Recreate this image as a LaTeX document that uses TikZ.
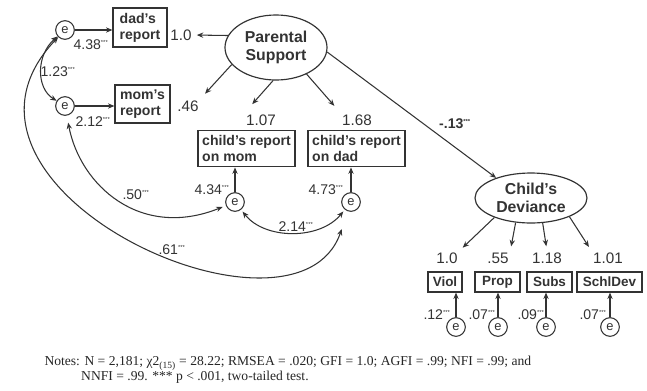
\documentclass[tikz,border=0pt]{standalone}
\usepackage{fontspec}
\setmainfont{Liberation Sans}
\newfontfamily\notesfont{Liberation Serif}
\usetikzlibrary{shapes.geometric, arrows.meta}
\newcommand{\stars}{\textsuperscript{\tiny ***}}

\begin{document}
\begin{tikzpicture}[x=0.03cm, y=-0.03cm, >={Stealth[length=5.5pt, width=4.5pt]}, line width=0.9pt, color=black!80,
  obs/.style={draw, line width=1pt, inner sep=2pt, align=left, font=\bfseries\fontsize{12}{13.6}\selectfont},
  small/.style={draw, line width=1pt, inner sep=1pt, minimum height=0.6cm, font=\bfseries\fontsize{11.5}{13}\selectfont},
  latent/.style={draw, ellipse, line width=1pt, inner sep=0pt, align=center, font=\bfseries\fontsize{13.5}{15.5}\selectfont},
  err/.style={draw, circle, line width=0.9pt, inner sep=0pt, minimum size=0.56cm, font=\fontsize{11}{11}\selectfont},
  coef/.style={inner sep=1pt, font=\fontsize{12}{12}\selectfont},
  load/.style={inner sep=1pt, font=\fontsize{13}{13}\selectfont}]
\useasboundingbox (0,0) rectangle (647,390);
% latent variables
\node[latent, minimum width=3.06cm, minimum height=1.95cm] (ps) at (276,47.5) {Parental\\Support};
\node[latent, minimum width=3.36cm, minimum height=1.5cm] (dev) at (531,198) {Child's\\Deviance};
% parental support indicators
\node[obs, minimum width=1.62cm, minimum height=1.17cm] (dadrep) at (140,27.5) {dad's\\report};
\node[obs, minimum width=1.65cm, minimum height=1.14cm] (momrep) at (142.5,104) {mom's\\report};
\node[obs, minimum width=2.91cm, minimum height=1.1cm] (cmom) at (246.5,148.5) {child's report\\on mom};
\node[obs, minimum width=2.91cm, minimum height=1.1cm] (cdad) at (356.5,148.5) {child's report\\on dad};
% deviance indicators
\node[small, minimum width=1.02cm] (viol) at (445,282) {Viol};
\node[small, minimum width=1.35cm] (prop) at (497.5,282) {Prop};
\node[small, minimum width=1.35cm] (subs) at (549.5,282) {Subs};
\node[small, minimum width=1.95cm] (schl) at (609.5,282) {SchlDev};
% error terms
\node[err] (e1) at (65,30) {e};
\node[err] (e2) at (65,106) {e};
\node[err] (e3) at (235,202) {e};
\node[err] (e4) at (351,202) {e};
\node[err] (e5) at (456,327) {e};
\node[err] (e6) at (498,327) {e};
\node[err] (e7) at (546,327) {e};
\node[err] (e8) at (610,327) {e};
% loadings
\node[load] (l10) at (181,35) {1.0};
\node[load] (l46) at (188,106) {.46};
\node[load] (l107) at (261,120) {1.07};
\node[load] (l168) at (357,120) {1.68};
\node[load] (lviol) at (447,258) {1.0};
\node[load] (lprop) at (498,258) {.55};
\node[load] (lsubs) at (547,258) {1.18};
\node[load] (lschl) at (608,258) {1.01};
% error variances and covariances
\node[coef] (c438) at (91,45) {4.38\stars};
\node[coef] (c212) at (93,122) {2.12\stars};
\node[coef] (c123) at (58,72) {1.23\stars};
\node[coef] (c434) at (212,190) {4.34\stars};
\node[coef] (c473) at (326,190) {4.73\stars};
\node[coef] (c214) at (296,227) {2.14\stars};
\node[coef] (c50) at (136,195) {.50\stars};
\node[coef] (c61) at (172,250) {.61\stars};
\node[coef, font=\bfseries\fontsize{12}{12}\selectfont] (c13) at (455,124) {-.13\stars};
\node[coef] (c12) at (437,315) {.12\stars};
\node[coef] (c07a) at (482,315) {.07\stars};
\node[coef] (c09) at (531,315) {.09\stars};
\node[coef] (c07b) at (593,315) {.07\stars};
% errors to indicators
\draw[->] (e1) -- (e1 -| dadrep.west);
\draw[->] (e2) -- (e2 -| momrep.west);
\draw[->] (e3) -- (e3 |- cmom.south);
\draw[->] (e4) -- (e4 |- cdad.south);
\foreach \e/\b in {e5/viol, e6/prop, e7/subs, e8/schl}
  \draw[->] (\e) -- (\e |- \b.south);
% factor paths
\draw[->, shorten >=3pt] (ps.166) -- (l10.east);
\draw[->, shorten >=6pt] (ps.201) -- (l46.north east);
\draw[->, shorten >=10pt] (ps.265) -- (l107.north west);
\draw[->, shorten >=8pt] (ps.319) -- (l168.north west);
\draw[->] (ps.355) -- (dev.150);
\draw[->, shorten >=4pt] (dev.208) -- (lviol.north east);
\draw[->, shorten >=4pt] (dev.238) -- (lprop.north east);
\draw[->, shorten >=4pt] (dev.295) -- (lsubs.north);
\draw[->, shorten >=4pt] (dev.334) -- (lschl.north west);
% correlated errors
\draw[<->] (e1) .. controls (36,55) and (36,88) .. (e2);
\draw[<->, shorten <=6pt, shorten >=3pt] (e2) .. controls (80,185) and (140,240) .. (e3);
\draw[<->, shorten <=2pt, shorten >=2pt] (e3) .. controls (265,240) and (320,240) .. (e4);
\draw[<->, shorten >=16pt] (e1) .. controls (-86,188) and (296,362) .. (e4);
% notes
\node[anchor=north west, align=left, inner sep=0pt, text=black!85, font=\notesfont\fontsize{11.6}{12.8}\selectfont] (notes) at (44,356)
  {Notes: N = 2,181; χ2\textsubscript{(15)} = 28.22; RMSEA = .020; GFI = 1.0; AGFI = .99; NFI = .99; and\\\hspace*{1.1cm}NNFI = .99. *** p < .001, two-tailed test.};
\end{tikzpicture}
\end{document}
